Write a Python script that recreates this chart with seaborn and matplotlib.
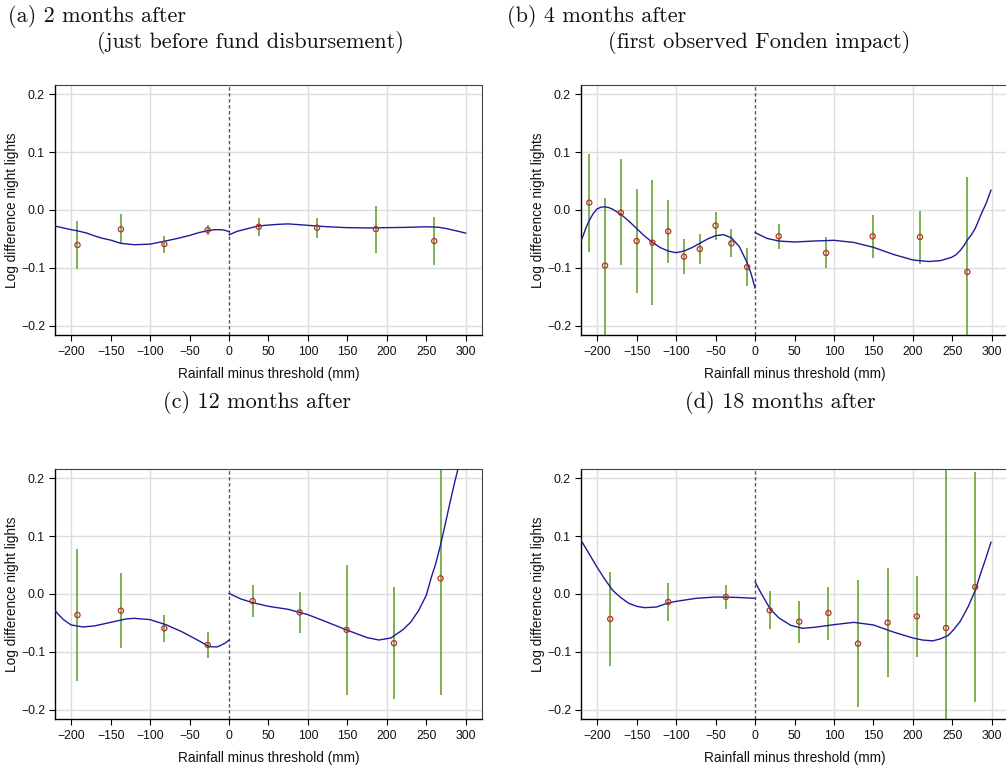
import numpy as np
import pandas as pd
import matplotlib
matplotlib.use("Agg")
import matplotlib.pyplot as plt
import seaborn as sns

sns.set_theme(style="white")
plt.rcParams['font.family'] = ['Liberation Sans', 'DejaVu Sans']
plt.rcParams['axes.unicode_minus'] = True

# ---------------- data ----------------
# Panel (a)
a_x = [-192, -137, -82, -27, 37.6, 111.5, 186, 260]
a_y = [-0.0605, -0.0334, -0.059, -0.0346, -0.029, -0.0305, -0.033, -0.0536]
a_lo = [-0.1025, -0.059, -0.074, -0.044, -0.045, -0.048, -0.074, -0.095]
a_hi = [-0.019, -0.0075, -0.045, -0.026, -0.013, -0.013, 0.0075, -0.012]
a_lx = [-221, -210, -200, -192, -180, -170, -160, -150, -137, -120, -100, -82, -65, -50, -38, -27, -18, -10, -4, 0]
a_ly = [-0.0276, -0.031, -0.034, -0.036, -0.040, -0.045, -0.049, -0.052, -0.0576, -0.060, -0.059, -0.054,
        -0.049, -0.044, -0.039, -0.0357, -0.034, -0.034, -0.0355, -0.0375]
a_rx = [0, 5, 10, 20, 30, 37, 50, 62, 75, 100, 125, 150, 175, 200, 225, 250, 265, 275, 288, 300]
a_ry = [-0.043, -0.040, -0.037, -0.0334, -0.030, -0.0276, -0.026, -0.0248, -0.024, -0.0265, -0.029, -0.0305,
        -0.031, -0.0305, -0.030, -0.029, -0.0298, -0.032, -0.036, -0.040]

# Panel (b)
b_x = [-210, -190, -170, -150, -130, -110, -90, -70, -50, -30, -10, 30, 90, 149, 209, 269]
b_y = [0.0127, -0.096, -0.0046, -0.0536, -0.0565, -0.0369, -0.0806, -0.0674, -0.027, -0.0576, -0.0985,
       -0.0455, -0.0743, -0.0455, -0.0467, -0.107]
b_lo = [-0.072, -0.23, -0.0956, -0.143, -0.164, -0.091, -0.111, -0.0927, -0.052, -0.0818, -0.131,
        -0.0668, -0.100, -0.0835, -0.0927, -0.23]
b_hi = [0.097, 0.021, 0.0875, 0.036, 0.052, 0.017, -0.050, -0.0415, -0.004, -0.033, -0.0657,
        -0.0248, -0.0467, -0.008, -0.0017, 0.057]
b_lx = [-221, -218, -214, -210, -205, -200, -195, -190, -185, -180, -170, -160, -150, -140, -130, -120,
        -110, -100, -90, -80, -70, -60, -50, -40, -30, -20, -10, -5, 0]
b_ly = [-0.0547, -0.045, -0.030, -0.018, -0.006, 0.002, 0.005, 0.0055, 0.004, 0.001, -0.0075, -0.019,
        -0.032, -0.045, -0.056, -0.065, -0.071, -0.0737, -0.071, -0.065, -0.0576, -0.050, -0.0444,
        -0.0426, -0.048, -0.063, -0.091, -0.110, -0.135]
b_rx = [0, 15, 30, 50, 75, 100, 125, 150, 175, 200, 220, 235, 249, 255, 260, 265, 269, 274, 279, 283,
        287, 293, 299]
b_ry = [-0.039, -0.049, -0.0536, -0.0553, -0.0536, -0.0524, -0.056, -0.0645, -0.0766, -0.0864, -0.089,
        -0.0875, -0.0818, -0.077, -0.070, -0.061, -0.0518, -0.043, -0.0317, -0.019, -0.0057, 0.012, 0.0346]

# Panel (c)
c_x = [-192, -137, -82, -27, 30, 89.5, 149, 209, 268]
c_y = [-0.0363, -0.0288, -0.0593, -0.088, -0.0121, -0.0317, -0.062, -0.085, 0.027]
c_lo = [-0.150, -0.0938, -0.0823, -0.110, -0.040, -0.068, -0.174, -0.182, -0.174]
c_hi = [0.0777, 0.0357, -0.0368, -0.066, 0.016, 0.004, 0.050, 0.0115, 0.30]
c_lx = [-221, -215, -210, -205, -200, -185, -170, -150, -130, -120, -100, -80, -60, -40, -25, -15, -5, 0]
c_ly = [-0.028, -0.037, -0.044, -0.049, -0.0535, -0.057, -0.055, -0.049, -0.043, -0.042, -0.0443,
        -0.053, -0.065, -0.0795, -0.091, -0.0915, -0.085, -0.0795]
c_rx = [0, 15, 30, 50, 75, 100, 125, 150, 175, 190, 205, 220, 230, 240, 250, 256, 262, 267.5, 273,
        279.3, 285, 290, 292]
c_ry = [0.001, -0.0086, -0.015, -0.0213, -0.0265, -0.0357, -0.049, -0.0627, -0.0754, -0.0795, -0.076,
        -0.062, -0.049, -0.029, -0.002, 0.0276, 0.053, 0.0822, 0.115, 0.154, 0.188, 0.216, 0.235]

# Panel (d)
d_x = [-183.5, -110, -37, 18.6, 56, 93, 130.5, 168, 205, 242, 279]
d_y = [-0.0432, -0.0138, -0.0052, -0.0282, -0.0478, -0.0328, -0.0858, -0.0495, -0.0386, -0.0587, 0.012]
d_lo = [-0.125, -0.0466, -0.0265, -0.061, -0.084, -0.079, -0.196, -0.143, -0.109, -0.30, -0.1865]
d_hi = [0.038, 0.0184, 0.015, 0.005, -0.0115, 0.0127, 0.0248, 0.0455, 0.0317, 0.30, 0.2107]
d_lx = [-221, -210, -200, -190, -180, -170, -160, -150, -140, -125, -110, -100, -75, -50, -25, 0]
d_ly = [0.094, 0.069, 0.046, 0.0248, 0.0058, -0.0063, -0.016, -0.0213, -0.0236, -0.0225, -0.0155,
        -0.0127, -0.0075, -0.0052, -0.0058, -0.0075]
d_rx = [0, 5, 10, 15, 20, 30, 45, 60, 75, 100, 125, 150, 175, 200, 212, 225, 235, 245, 252, 260, 270,
        279, 285, 292, 299]
d_ry = [0.0213, 0.008, -0.004, -0.016, -0.027, -0.041, -0.054, -0.0593, -0.0576, -0.053, -0.049, -0.0535,
        -0.0656, -0.076, -0.0795, -0.081, -0.0775, -0.0714, -0.061, -0.0472, -0.022, 0.006, 0.032, 0.060,
        0.0898]

titles = [
    ("(a) 2 months after", "(just before fund disbursement)"),
    ("(b) 4 months after", "(first observed Fonden impact)"),
    ("(c) 12 months after", None),
    ("(d) 18 months after", None),
]
x_ticks = [-200, -150, -100, -50, 0, 50, 100, 150, 200, 250, 300]
y_ticks = [-0.2, -0.1, 0.0, 0.1, 0.2]
x_grid = [-200, -100, 100, 200, 300]
x_label = "Rainfall minus threshold (mm)"
y_label = "Log difference night lights"

panels = [
    (a_x, a_y, a_lo, a_hi, a_lx, a_ly, a_rx, a_ry),
    (b_x, b_y, b_lo, b_hi, b_lx, b_ly, b_rx, b_ry),
    (c_x, c_y, c_lo, c_hi, c_lx, c_ly, c_rx, c_ry),
    (d_x, d_y, d_lo, d_hi, d_lx, d_ly, d_rx, d_ry),
]

# ---------------- figure ----------------
W, H = 1006, 770
fig = plt.figure(figsize=(W / 100, H / 100), dpi=100)
fig.patch.set_facecolor("white")

boxes = [(55, 85), (581, 85), (55, 469), (581, 469)]
aw, ah = 427, 250

CURVE = "#1c1c9c"
BAR = "#5a9e1f"
PT = "#b8302a"

for i, (box, data) in enumerate(zip(boxes, panels)):
    px, py, lo, hi, lx, ly, rx, ry = data
    l, t = box
    ax = fig.add_axes([l / W, 1 - (t + ah) / H, aw / W, ah / H])
    ax.set_facecolor("white")
    ax.set_xlim(-220.5, 320.5)
    ax.set_ylim(-0.216, 0.216)

    for g in y_ticks:
        ax.axhline(g, color="#dcdcdc", lw=1.0, zorder=0)
    for g in x_grid:
        ax.axvline(g, color="#dcdcdc", lw=1.0, zorder=0)
    ax.axvline(0, color="#555555", lw=1.0, ls=(0, (2.5, 1.8)), zorder=1)

    ax.vlines(px, lo, hi, color=BAR, lw=1.1, zorder=2)

    sns.lineplot(x=lx, y=ly, ax=ax, color=CURVE, lw=1.0, sort=False, zorder=3)
    sns.lineplot(x=rx, y=ry, ax=ax, color=CURVE, lw=1.0, sort=False, zorder=3)
    sns.scatterplot(x=px, y=py, ax=ax, s=14, facecolor="none", edgecolor=PT,
                    linewidth=0.9, zorder=4)

    ax.set_xticks(x_ticks)
    ax.set_xticklabels([("\u2212%d" % -v) if v < 0 else "%d" % v for v in x_ticks])
    ax.set_yticks(y_ticks)
    ax.set_yticklabels([("\u2212%.1f" % -v) if v < 0 else "%.1f" % v for v in y_ticks])
    ax.tick_params(axis="both", which="major", direction="out", length=4.2, width=0.8,
                   color="black", labelsize=8.8, labelcolor="#111111",
                   bottom=True, left=True, top=False, right=False)
    ax.tick_params(axis="x", pad=4.0)
    ax.tick_params(axis="y", pad=3)
    ax.set_xlabel(x_label, fontsize=9.8, color="#111111", labelpad=6)
    ax.set_ylabel(y_label, fontsize=9.8, color="#111111")
    ax.yaxis.set_label_coords(-0.085, 0.5)

    for s in ["left", "bottom"]:
        ax.spines[s].set_color("black")
        ax.spines[s].set_linewidth(1.0)
    for s in ["top", "right"]:
        ax.spines[s].set_color("#444444")
        ax.spines[s].set_linewidth(0.8)
    for s in ax.spines.values():
        s.set_visible(True)

# titles (LaTeX-like serif)
tf = dict(family="cmr10", fontsize=16, color="#111111")
fig.text(8 / W, 1 - 16.5 / H, titles[0][0], ha="left", va="center", **tf)
fig.text(250 / W, 1 - 43 / H, titles[0][1], ha="center", va="center", **tf)
fig.text(507 / W, 1 - 16.5 / H, titles[1][0], ha="left", va="center", **tf)
fig.text(759 / W, 1 - 43 / H, titles[1][1], ha="center", va="center", **tf)
fig.text(257 / W, 1 - 403 / H, titles[2][0], ha="center", va="center", **tf)
fig.text(780 / W, 1 - 403 / H, titles[3][0], ha="center", va="center", **tf)

fig.savefig("out.png", dpi=100, facecolor="white")
